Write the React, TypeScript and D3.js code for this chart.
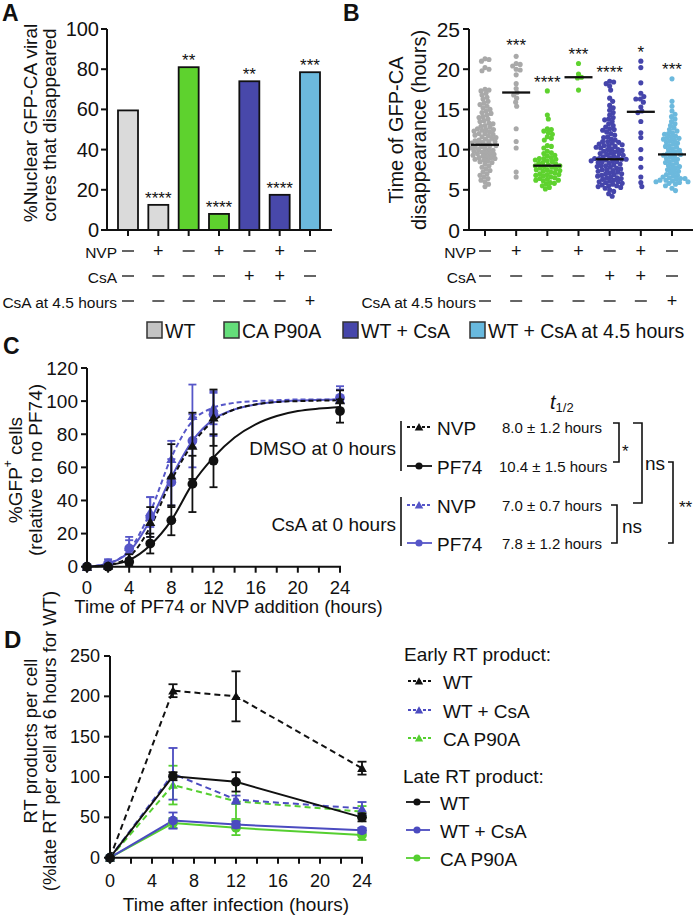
import React, { useMemo } from 'react';
import * as d3 from 'd3';

const FONT = "'Liberation Sans', Arial, Helvetica, sans-serif";

// ---------- Panel A ----------
const aValues = [59.5, 12.5, 81, 8, 74, 17.5, 78.5];
const aGroups = ['wt', 'wt', 'p90a', 'p90a', 'csa', 'csa', 'csa45'];
const aStars = ['', '****', '**', '****', '**', '****', '***'];
const aTicks = [0, 20, 40, 60, 80, 100];

// treatment rows shared by A and B
const rowLabels = ['NVP', 'CsA', 'CsA at 4.5 hours'];
const rowNVP = ['-', '+', '-', '+', '-', '+', '-'];
const rowCsA = ['-', '-', '-', '-', '+', '+', '-'];
const rowCsA45 = ['-', '-', '-', '-', '-', '-', '+'];

// ---------- Panel B ----------
const bTicks = [0, 5, 10, 15, 20, 25];
const bWT = [21.3, 21.2, 21.0, 20.2, 20.0, 19.8, 17.5, 17.4, 17.3, 17.0, 16.8, 16.5, 16.3, 16.0, 15.8, 15.6, 15.4, 15.2, 15.0, 14.8, 14.6, 14.5, 14.3, 14.1, 14.0, 13.8, 13.6, 13.5, 13.3, 13.2, 13.0, 12.9, 12.8, 12.6, 12.5, 12.4, 12.3, 12.2, 12.0, 11.9, 11.8, 11.7, 11.6, 11.5, 11.4, 11.3, 11.2, 11.1, 11.0, 10.9, 10.8, 10.7, 10.6, 10.5, 10.4, 10.3, 10.2, 10.1, 10.0, 9.9, 9.8, 9.7, 9.6, 9.5, 9.4, 9.3, 9.2, 9.1, 9.0, 8.9, 8.8, 8.7, 8.6, 8.5, 8.4, 8.2, 8.0, 7.8, 7.6, 7.4, 7.2, 7.0, 6.8, 6.6, 6.4, 6.2, 6.0, 5.7, 5.4, 11.0, 10.5, 10.0, 9.5, 12.0, 12.5, 9.0];
const bWTNVP = [21.6, 20.7, 20.6, 20.4, 20.0, 19.9, 19.3, 18.2, 17.6, 17.1, 16.8, 16.4, 15.9, 15.4, 12.6, 11.0, 10.2, 7.2, 6.6];
const bP90A = [17.3, 14.3, 13.8, 12.6, 12.5, 12.3, 12.1, 11.9, 11.6, 11.4, 11.2, 10.5, 10.4, 10.2, 9.8, 9.6, 9.5, 9.3, 9.2, 9.0, 8.9, 8.8, 8.7, 8.6, 8.5, 8.4, 8.3, 8.2, 8.1, 8.0, 8.0, 7.9, 7.8, 7.7, 7.6, 7.5, 7.4, 7.3, 7.2, 7.1, 7.0, 6.9, 6.8, 6.7, 6.6, 6.5, 6.4, 6.3, 6.2, 6.1, 5.9, 5.7, 5.5, 5.3, 5.1, 8.9, 7.5, 6.9, 6.2, 5.8];
const bP90ANVP = [20.7, 19.4, 19.0, 18.9, 17.4];
const bCsA = [18.5, 18.4, 18.2, 17.9, 17.4, 16.4, 16.0, 15.5, 15.2, 14.9, 14.6, 14.3, 14.0, 13.7, 13.5, 13.2, 13.0, 12.8, 12.6, 12.4, 12.2, 12.0, 11.8, 11.6, 11.5, 11.3, 11.2, 11.0, 10.9, 10.8, 10.7, 10.6, 10.5, 10.4, 10.3, 10.2, 10.1, 10.0, 9.9, 9.8, 9.7, 9.6, 9.5, 9.4, 9.3, 9.2, 9.1, 9.0, 8.9, 8.9, 8.8, 8.8, 8.7, 8.6, 8.6, 8.5, 8.4, 8.3, 8.2, 8.1, 8.0, 7.9, 7.8, 7.7, 7.6, 7.5, 7.4, 7.3, 7.2, 7.1, 7.0, 6.9, 6.8, 6.7, 6.6, 6.5, 6.4, 6.3, 6.2, 6.1, 6.0, 5.9, 5.8, 5.7, 5.6, 5.5, 5.4, 5.3, 5.2, 5.0, 4.8, 4.5, 4.2, 11.0, 10.5, 10.0, 9.5, 9.0, 8.5, 8.0, 7.5, 7.0, 6.5, 6.0, 5.5, 12.5, 13.8];
const bCsANVP = [21.0, 20.2, 18.3, 17.0, 16.6, 16.3, 16.3, 15.9, 15.3, 14.8, 14.6, 13.5, 12.1, 11.5, 10.0, 8.9, 7.8, 6.6, 5.9, 5.4];
const bCsA45 = [18.8, 16.0, 15.4, 14.8, 14.4, 14.1, 13.8, 13.5, 13.2, 13.0, 12.7, 12.5, 12.3, 12.1, 11.9, 11.7, 11.6, 11.5, 11.3, 11.1, 10.9, 10.7, 10.5, 10.3, 10.1, 9.9, 9.7, 9.5, 9.4, 9.3, 9.1, 8.9, 8.7, 8.5, 8.3, 8.1, 7.9, 7.7, 7.5, 7.3, 7.1, 6.9, 6.7, 6.6, 6.5, 6.4, 6.3, 6.2, 6.1, 6.0, 5.9, 5.7, 5.5, 5.2, 4.9, 12.0, 11.4, 11.2, 10.8, 10.4, 10.0, 9.6, 9.2, 8.8, 8.4, 8.0, 7.6, 7.2, 6.8, 6.4, 6.2, 6.0, 5.8];
const bSeries = [bWT, bWTNVP, bP90A, bP90ANVP, bCsA, bCsANVP, bCsA45];
const bMedians = [10.6, 17.1, 8.0, 19.0, 8.8, 14.7, 9.4];
const bStars = ['', '***', '****', '***', '****', '*', '***'];
const bStarLevels = [0, 23.5, 18.9, 22.3, 20.1, 22.6, 20.5];

// ---------- Legend A/B ----------
const abLegendLabels = ['WT', 'CA P90A', 'WT + CsA', 'WT + CsA at 4.5 hours'];
const abLegendKeys = ['wt', 'p90a', 'csa', 'csa45'];

// ---------- Panel C ----------
const cTimes = [0, 2, 4, 6, 8, 10, 12, 24];
const cDmsoNvp = [0, 0.5, 5, 27, 55, 73, 90, 100.5];
const cDmsoNvpErr = [0, 0.5, 2.5, 9, 19, 20, 17, 6];
const cDmsoPf74 = [0, 0, 3, 14, 28, 50, 64, 94];
const cDmsoPf74Err = [0, 0.5, 2, 6, 9, 17, 16, 7];
const cCsaNvp = [0, 1, 12, 33, 65, 91, 96, 101];
const cCsaNvpErr = [0, 2, 4, 9, 11, 19, 10, 6];
const cCsaPf74 = [0, 2, 11, 30, 51, 76, 92, 102];
const cCsaPf74Err = [0, 2.5, 7, 12, 14, 16, 13, 7];
// fitted curves
const cFitX = [0, 2, 4, 6, 8, 10, 12, 14, 16, 18, 20, 22, 24];
const cFitDmsoNvp = [0, 1, 6, 24, 52, 74, 88, 95, 98, 99.5, 100, 100.3, 100.5];
const cFitDmsoPf74 = [0, 1, 4, 13, 28, 50, 66, 78, 86, 91, 94, 95.5, 96.5];
const cFitCsaNvp = [0, 2, 10, 33, 66, 88, 96, 99, 100, 100.5, 101, 101, 101];
const cFitCsaPf74 = [0, 2, 9, 28, 54, 76, 89, 95, 98, 99.5, 100.3, 100.7, 101];
const cYTicks = [0, 20, 40, 60, 80, 100, 120];
const cXTicks = [0, 4, 8, 12, 16, 20, 24];
const cXMinor = [0, 2, 4, 6, 8, 10, 12, 14, 16, 18, 20, 22, 24];
const cHalfLives = ['8.0 ± 1.2 hours', '10.4 ± 1.5 hours', '7.0 ± 0.7 hours', '7.8 ± 1.2 hours'];
const cGroupLabels = ['DMSO at 0 hours', 'CsA at 0 hours'];
const cDrugLabels = ['NVP', 'PF74', 'NVP', 'PF74'];

// ---------- Panel D ----------
const dTimes = [0, 6, 12, 24];
const dEarlyWT = [0, 207, 200, 111];
const dEarlyWTErr = [0, 8, 31, 8];
const dEarlyCsA = [0, 104, 72, 61];
const dEarlyCsAErr = [0, 32, 5, 8];
const dEarlyP90A = [0, 90, 70, 57];
const dEarlyP90AErr = [0, 24, 22, 7];
const dLateWT = [0, 101, 94, 50];
const dLateWTErr = [0, 5, 12, 5];
const dLateCsA = [0, 46, 41, 34];
const dLateCsAErr = [0, 10, 4, 3];
const dLateP90A = [0, 43, 37, 28];
const dLateP90AErr = [0, 6, 9, 6];
const dYTicks = [0, 50, 100, 150, 200, 250];
const dXTicks = [0, 4, 8, 12, 16, 20, 24];
const dXMinor = [0, 2, 4, 6, 8, 10, 12, 14, 16, 18, 20, 22, 24];
const dLegendSeries = ['WT', 'WT + CsA', 'CA P90A'];

// ---------- styles ----------
const barFill: Record<string, string> = { wt: '#dadada', p90a: '#5ed22e', csa: '#4848aa', csa45: '#6cb9dc' };
const dotFill = ['#a9a9a9', '#a9a9a9', '#5ed22e', '#5ed22e', '#4545ab', '#4545ab', '#6cb9dd'];
const legendFill: Record<string, string> = { wt: '#c4c4c4', p90a: '#64de7a', csa: '#4646aa', csa45: '#68b9de' };
const BLUE_C = '#5656c8';
const BLUE_D = '#4b4bc0';
const GREEN_D = '#55cf30';

function beeswarm(values: number[], y: (v: number) => number, r: number) {
  const pts = values.map((v) => ({ y: y(v) })).sort((a, b) => a.y - b.y);
  const placed: { x: number; y: number }[] = [];
  const dmin = 2 * r * 0.8;
  const d2 = dmin * dmin;
  for (const p of pts) {
    let best = 0;
    for (let k = 0; k < 400; k++) {
      const off = (k % 2 === 1 ? 1 : -1) * Math.ceil(k / 2) * 0.5;
      let ok = true;
      for (const q of placed) {
        const dx = q.x - off, dy = q.y - p.y;
        if (dx * dx + dy * dy < d2) { ok = false; break; }
      }
      if (ok) { best = off; break; }
    }
    placed.push({ x: best, y: p.y });
  }
  return placed;
}

const T = (props: any) => <text fontFamily={FONT} fill="#111" {...props} />;

function SignRows({ x, labelX }: { x: (i: number) => number; labelX: number }) {
  const rows = [rowNVP, rowCsA, rowCsA45];
  const ys = [252, 277, 302];
  return (
    <g>
      {rows.map((row, r) => (
        <g key={r}>
          <T x={labelX} y={ys[r]} fontSize={15.5} textAnchor="end" dominantBaseline="central">{rowLabels[r]}</T>
          {row.map((s, i) =>
            s === '+' ? (
              <T key={i} x={x(i)} y={ys[r] - 1} fontSize={18} textAnchor="middle" dominantBaseline="central">+</T>
            ) : (
              <line key={i} x1={x(i) - 6} x2={x(i) + 6} y1={ys[r] - 1} y2={ys[r] - 1} stroke="#111" strokeWidth={1.3} />
            )
          )}
        </g>
      ))}
    </g>
  );
}

function ErrBar({ x, lo, hi, color, cap = 4 }: any) {
  return (
    <g stroke={color} strokeWidth={1.8}>
      <line x1={x} x2={x} y1={lo} y2={hi} />
      <line x1={x - cap} x2={x + cap} y1={lo} y2={lo} />
      <line x1={x - cap} x2={x + cap} y1={hi} y2={hi} />
    </g>
  );
}

function Marker({ kind, x, y, color, size }: any) {
  if (kind === 'tri') {
    const p = d3.symbol(d3.symbolTriangle, size)();
    return <path d={p || ''} transform={`translate(${x},${y + 1})`} fill={color} />;
  }
  return <circle cx={x} cy={y} r={Math.sqrt(size / Math.PI)} fill={color} />;
}

export default function App() {
  const idx = d3.range(7);
  const xA = d3.scalePoint<number>().domain(idx).range([128, 310]);
  const yA = d3.scaleLinear().domain([0, 100]).range([230, 29]);
  const xB = d3.scalePoint<number>().domain(idx).range([485, 672]);
  const yB = d3.scaleLinear().domain([0, 25]).range([230, 29]);
  const xC = d3.scaleLinear().domain([0, 24]).range([87, 340]);
  const yC = d3.scaleLinear().domain([0, 120]).range([566.7, 368]);
  const xD = d3.scaleLinear().domain([0, 24]).range([110, 362]);
  const yD = d3.scaleLinear().domain([0, 250]).range([857.7, 656]);

  const swarms = useMemo(() => bSeries.map((s) => beeswarm(s, yB, 2.55)), []);

  const fitLine = (ys: number[]) =>
    d3.line<number>().x((_, i) => xC(cFitX[i])).y((v) => yC(v)).curve(d3.curveMonotoneX)(ys) || '';
  const dLine = (ys: number[]) => d3.line<number>().x((_, i) => xD(dTimes[i])).y((v) => yD(v))(ys) || '';

  const cSeries = [
    { v: cCsaPf74, e: cCsaPf74Err, color: BLUE_C, kind: 'circ' },
    { v: cCsaNvp, e: cCsaNvpErr, color: BLUE_C, kind: 'tri' },
    { v: cDmsoPf74, e: cDmsoPf74Err, color: '#111', kind: 'circ' },
    { v: cDmsoNvp, e: cDmsoNvpErr, color: '#111', kind: 'tri' },
  ];
  const cFits = [
    { v: cFitCsaPf74, color: BLUE_C, dash: null },
    { v: cFitCsaNvp, color: BLUE_C, dash: '5,3' },
    { v: cFitDmsoPf74, color: '#111', dash: null },
    { v: cFitDmsoNvp, color: '#111', dash: '5,3' },
  ];
  const dSeries = [
    { v: dLateP90A, e: dLateP90AErr, color: GREEN_D, kind: 'circ', dash: null },
    { v: dLateCsA, e: dLateCsAErr, color: BLUE_D, kind: 'circ', dash: null },
    { v: dEarlyP90A, e: dEarlyP90AErr, color: GREEN_D, kind: 'tri', dash: '6,4' },
    { v: dEarlyCsA, e: dEarlyCsAErr, color: BLUE_D, kind: 'tri', dash: '6,4' },
    { v: dLateWT, e: dLateWTErr, color: '#111', kind: 'circ', dash: null },
    { v: dEarlyWT, e: dEarlyWTErr, color: '#111', kind: 'tri', dash: '6,4' },
  ];

  const cLegendRows = [
    { y: 427, color: '#111', dash: '3,2', kind: 'tri' },
    { y: 466, color: '#111', dash: null, kind: 'circ' },
    { y: 505, color: BLUE_C, dash: '3,2', kind: 'tri' },
    { y: 543, color: BLUE_C, dash: null, kind: 'circ' },
  ];
  const dLegendColors = ['#111', BLUE_D, GREEN_D];

  return (
    <svg width={694} height={917} style={{ position: 'absolute', left: 0, top: 0, background: '#fff' }}>
      <rect width={694} height={917} fill="#fff" />
      <T x={2} y={21} fontSize={23} fontWeight="bold">A</T>
      <T x={343} y={21} fontSize={23} fontWeight="bold">B</T>
      <T x={3} y={354} fontSize={23} fontWeight="bold">C</T>
      <T x={4} y={648} fontSize={24} fontWeight="bold">D</T>

      {/* ===== Panel A ===== */}
      <g>
        {aValues.map((v, i) => (
          <rect key={i} x={xA(i)! - 10} y={yA(v)} width={20} height={yA(0) - yA(v)} fill={barFill[aGroups[i]]} stroke="#111" strokeWidth={1.8} />
        ))}
        {aValues.map((v, i) => (
          <T key={i} x={xA(i)} y={yA(v) - 1} fontSize={17} textAnchor="middle">{aStars[i]}</T>
        ))}
        <line x1={107} x2={107} y1={yA(100)} y2={yA(0)} stroke="#111" strokeWidth={2} />
        <line x1={106} x2={332} y1={yA(0)} y2={yA(0)} stroke="#111" strokeWidth={2} />
        {aTicks.map((t) => (
          <g key={t}>
            <line x1={101} x2={107} y1={yA(t)} y2={yA(t)} stroke="#111" strokeWidth={2} />
            <T x={99} y={yA(t)} fontSize={20} textAnchor="end" dominantBaseline="central">{t}</T>
          </g>
        ))}
        {idx.map((i) => (
          <line key={i} x1={xA(i)} x2={xA(i)} y1={230} y2={236} stroke="#111" strokeWidth={2} />
        ))}
        <T transform="translate(30,123) rotate(-90)" fontSize={19} textAnchor="middle" dominantBaseline="central">%Nuclear GFP-CA viral</T>
        <T transform="translate(49,125) rotate(-90)" fontSize={19} textAnchor="middle" dominantBaseline="central">cores that disappeared</T>
        <SignRows x={(i) => xA(i)!} labelX={117} />
      </g>

      {/* ===== Panel B ===== */}
      <g>
        {swarms.map((pts, g) => (
          <g key={g}>
            {pts.map((p, j) => (
              <circle key={j} cx={xB(g)! + p.x} cy={p.y} r={2.55} fill={dotFill[g]} />
            ))}
          </g>
        ))}
        {bMedians.map((m, g) => (
          <line key={g} x1={xB(g)! - 14} x2={xB(g)! + 14} y1={yB(m)} y2={yB(m)} stroke="#111" strokeWidth={2.3} />
        ))}
        {bStars.map((s, g) => (
          <T key={g} x={xB(g)} y={yB(bStarLevels[g]) + 9.5} fontSize={17} textAnchor="middle">{s}</T>
        ))}
        <line x1={469} x2={469} y1={yB(25)} y2={yB(0)} stroke="#111" strokeWidth={2} />
        <line x1={468} x2={693} y1={yB(0)} y2={yB(0)} stroke="#111" strokeWidth={2} />
        {bTicks.map((t) => (
          <g key={t}>
            <line x1={463} x2={469} y1={yB(t)} y2={yB(t)} stroke="#111" strokeWidth={2} />
            <T x={460} y={yB(t)} fontSize={21} textAnchor="end" dominantBaseline="central">{t}</T>
          </g>
        ))}
        {idx.map((i) => (
          <line key={i} x1={xB(i)} x2={xB(i)} y1={230} y2={236} stroke="#111" strokeWidth={2} />
        ))}
        <T transform="translate(396,130) rotate(-90)" fontSize={20} textAnchor="middle" dominantBaseline="central">Time of GFP-CA</T>
        <T transform="translate(419,130) rotate(-90)" fontSize={20} textAnchor="middle" dominantBaseline="central">disappearance (hours)</T>
        <SignRows x={(i) => xB(i)!} labelX={476} />
      </g>

      {/* ===== Legend A/B ===== */}
      <g>
        {abLegendLabels.map((lab, i) => {
          const sx = [147, 224, 343, 470][i];
          return (
            <g key={i}>
              <rect x={sx} y={322} width={15} height={16} fill={legendFill[abLegendKeys[i]]} stroke="#333" strokeWidth={1.5} />
              <T x={sx + 18} y={331} fontSize={19.5} dominantBaseline="central">{lab}</T>
            </g>
          );
        })}
      </g>

      {/* ===== Panel C ===== */}
      <g>
        {cFits.map((f, i) => (
          <path key={i} d={fitLine(f.v)} fill="none" stroke={f.color} strokeWidth={2} strokeDasharray={f.dash || undefined} />
        ))}
        {cSeries.map((s, si) => (
          <g key={si}>
            {s.v.map((v, i) => (
              s.e[i] > 0 ? <ErrBar key={i} x={xC(cTimes[i])} lo={yC(v - s.e[i])} hi={yC(v + s.e[i])} color={s.color} cap={4} /> : null
            ))}
            {s.v.map((v, i) => (
              <Marker key={'m' + i} kind={s.kind} x={xC(cTimes[i])} y={yC(v)} color={s.color} size={s.kind === 'tri' ? 45 : 75} />
            ))}
          </g>
        ))}
        <line x1={87} x2={87} y1={yC(120)} y2={yC(0)} stroke="#111" strokeWidth={2} />
        <line x1={86} x2={341} y1={yC(0)} y2={yC(0)} stroke="#111" strokeWidth={2} />
        {cYTicks.map((t) => (
          <g key={t}>
            <line x1={81} x2={87} y1={yC(t)} y2={yC(t)} stroke="#111" strokeWidth={2} />
            <T x={78} y={yC(t)} fontSize={19} textAnchor="end" dominantBaseline="central">{t}</T>
          </g>
        ))}
        {cXMinor.map((t) => (
          <line key={t} x1={xC(t)} x2={xC(t)} y1={yC(0)} y2={yC(0) + 6} stroke="#111" strokeWidth={2} />
        ))}
        {cXTicks.map((t) => (
          <T key={t} x={xC(t)} y={594} fontSize={18.5} textAnchor="middle">{t}</T>
        ))}
        <T x={(xC(0) + xC(24)) / 2 + 15} y={613} fontSize={18.5} textAnchor="middle">Time of PF74 or NVP addition (hours)</T>
        <T transform="translate(15,470) rotate(-90)" fontSize={19} textAnchor="middle" dominantBaseline="central">
          %GFP<tspan baselineShift="super" fontSize={12}>+</tspan> cells
        </T>
        <T transform="translate(35,470) rotate(-90)" fontSize={19} textAnchor="middle" dominantBaseline="central">(relative to no PF74)</T>

        <T x={550} y={402} fontSize={20} dominantBaseline="central">
          <tspan fontStyle="italic">t</tspan>
          <tspan fontSize={13} dy={5}>1/2</tspan>
        </T>
        <T x={396} y={448} fontSize={19} textAnchor="end" dominantBaseline="central">{cGroupLabels[0]}</T>
        <T x={396} y={524} fontSize={19} textAnchor="end" dominantBaseline="central">{cGroupLabels[1]}</T>
        <line x1={401} x2={401} y1={421} y2={471} stroke="#111" strokeWidth={1.6} />
        <line x1={401} x2={401} y1={497} y2={546} stroke="#111" strokeWidth={1.6} />
        {cLegendRows.map((r, i) => (
          <g key={i}>
            <line x1={407} x2={432} y1={r.y} y2={r.y} stroke={r.color} strokeWidth={1.8} strokeDasharray={r.dash || undefined} />
            <Marker kind={r.kind} x={419} y={r.y} color={r.color} size={r.kind === 'tri' ? 32 : 40} />
            <T x={437} y={r.y + 1} fontSize={19} dominantBaseline="central">{cDrugLabels[i]}</T>
            <T x={i === 1 ? 499 : 502} y={r.y} fontSize={15} dominantBaseline="central">{cHalfLives[i]}</T>
          </g>
        ))}
        <g stroke="#111" strokeWidth={1.6} fill="none">
          <path d="M613,423 H619 V462 H613" />
          <path d="M633,423 H642 V503 H633" />
          <path d="M611,505 H617 V543 H611" />
          <path d="M668,462 H673 V543 H668" />
        </g>
        <T x={622} y={457} fontSize={17}>*</T>
        <T x={645} y={470} fontSize={19}>ns</T>
        <T x={622} y={533} fontSize={19}>ns</T>
        <T x={679} y={513} fontSize={17}>**</T>
      </g>

      {/* ===== Panel D ===== */}
      <g>
        {dSeries.map((s, si) => (
          <path key={si} d={dLine(s.v)} fill="none" stroke={s.color} strokeWidth={2} strokeDasharray={s.dash || undefined} />
        ))}
        {dSeries.map((s, si) => (
          <g key={si}>
            {s.v.map((v, i) =>
              s.e[i] > 0 ? <ErrBar key={i} x={xD(dTimes[i])} lo={yD(v - s.e[i])} hi={yD(v + s.e[i])} color={s.color} cap={4.5} /> : null
            )}
            {s.v.map((v, i) => (
              <Marker key={'m' + i} kind={s.kind} x={xD(dTimes[i])} y={yD(v)} color={s.color} size={s.kind === 'tri' ? 40 : 75} />
            ))}
          </g>
        ))}
        <line x1={110} x2={110} y1={yD(250)} y2={yD(0)} stroke="#111" strokeWidth={2} />
        <line x1={109} x2={363} y1={yD(0)} y2={yD(0)} stroke="#111" strokeWidth={2} />
        {dYTicks.map((t) => (
          <g key={t}>
            <line x1={104} x2={110} y1={yD(t)} y2={yD(t)} stroke="#111" strokeWidth={2} />
            <T x={100} y={yD(t)} fontSize={18} textAnchor="end" dominantBaseline="central">{t}</T>
          </g>
        ))}
        {dXMinor.map((t) => (
          <line key={t} x1={xD(t)} x2={xD(t)} y1={yD(0)} y2={yD(0) + 6} stroke="#111" strokeWidth={2} />
        ))}
        {dXTicks.map((t) => (
          <T key={t} x={xD(t)} y={887} fontSize={18} textAnchor="middle">{t}</T>
        ))}
        <T x={(xD(0) + xD(24)) / 2} y={911} fontSize={19} textAnchor="middle">Time after infection (hours)</T>
        <T transform="translate(30,741) rotate(-90)" fontSize={18.5} textAnchor="middle" dominantBaseline="central">RT products per cell</T>
        <T transform="translate(49,741) rotate(-90)" fontSize={18.5} textAnchor="middle" dominantBaseline="central">(%late RT per cell at 6 hours for WT)</T>

        <T x={404} y={654} fontSize={19} dominantBaseline="central">Early RT product:</T>
        {dLegendSeries.map((lab, i) => {
          const y = [681, 710, 738][i];
          return (
            <g key={'e' + i}>
              <line x1={408} x2={433} y1={y} y2={y} stroke={dLegendColors[i]} strokeWidth={1.8} strokeDasharray="3,2" />
              <Marker kind="tri" x={419} y={y} color={dLegendColors[i]} size={30} />
              <T x={443} y={y + 1} fontSize={19} dominantBaseline="central">{lab}</T>
            </g>
          );
        })}
        <T x={403} y={776} fontSize={19} dominantBaseline="central">Late RT product:</T>
        {dLegendSeries.map((lab, i) => {
          const y = [802, 830, 858][i];
          return (
            <g key={'l' + i}>
              <line x1={406} x2={430} y1={y} y2={y} stroke={dLegendColors[i]} strokeWidth={1.8} />
              <Marker kind="circ" x={417} y={y} color={dLegendColors[i]} size={40} />
              <T x={440} y={y + 1} fontSize={19} dominantBaseline="central">{lab}</T>
            </g>
          );
        })}
      </g>
    </svg>
  );
}
